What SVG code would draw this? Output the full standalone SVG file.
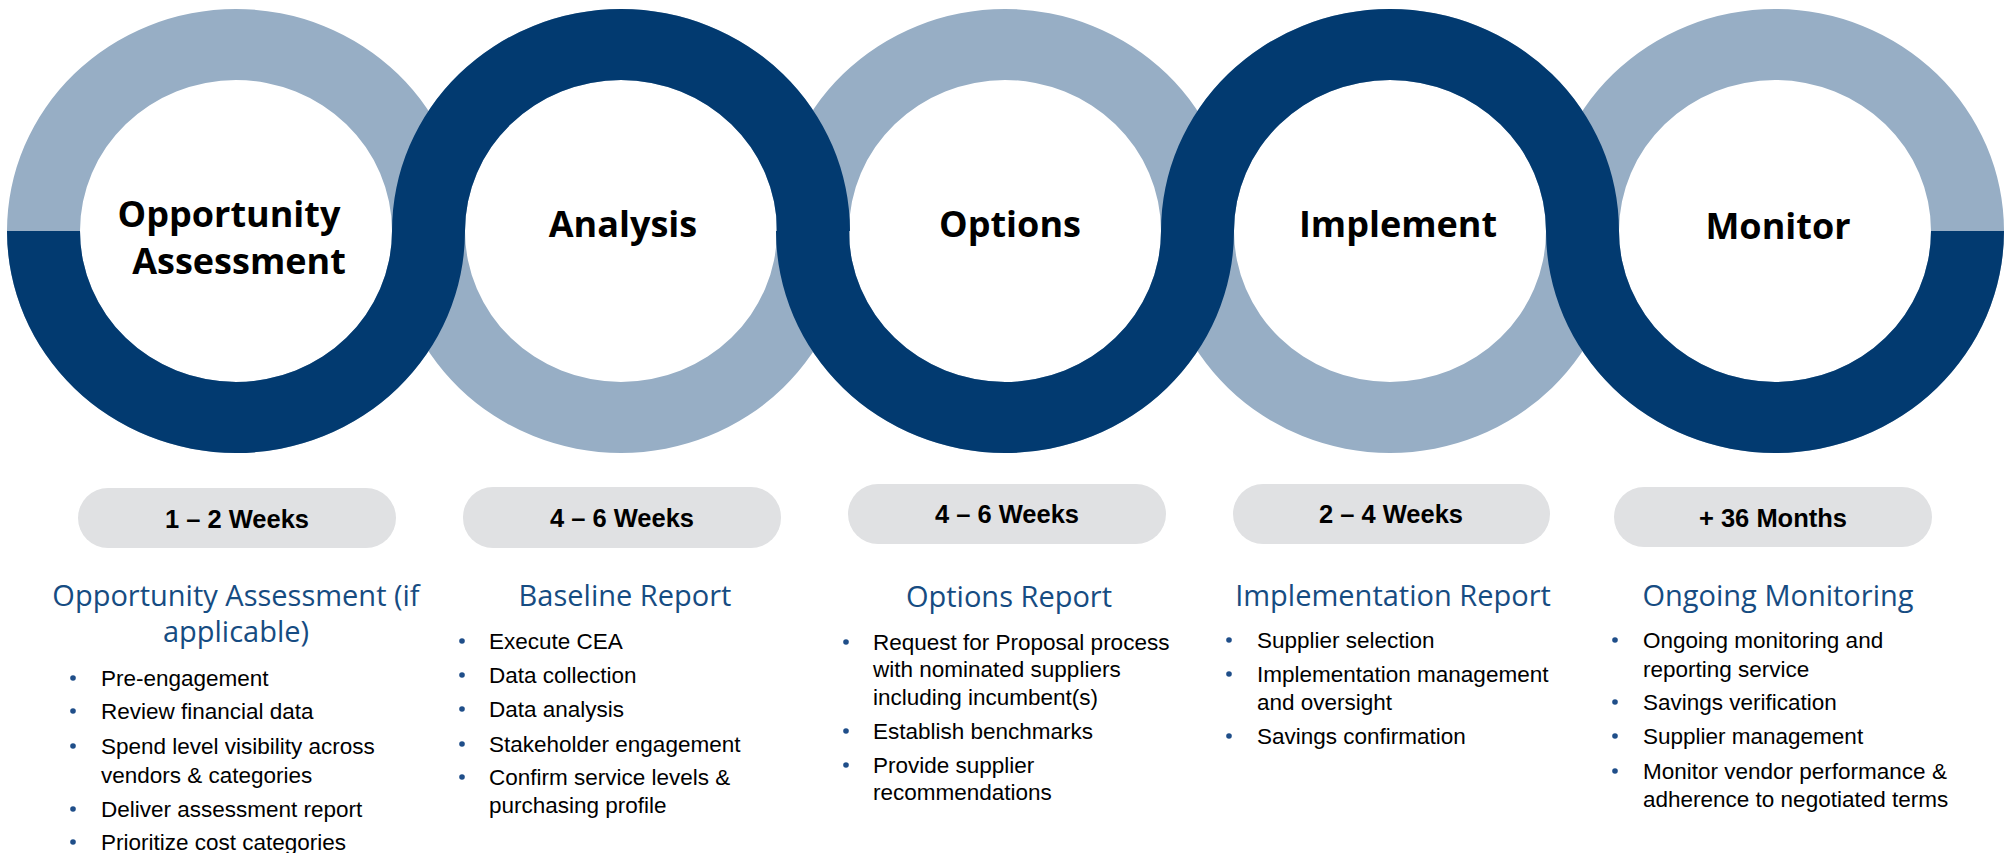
<svg xmlns="http://www.w3.org/2000/svg" width="2011" height="853" viewBox="0 0 2011 853">
<style>
.light{fill:#97aec5}
.dark{fill:#023a70}
.title{font-family:"Open Sans","DejaVu Sans",sans-serif;font-weight:bold;font-size:36px;fill:#000;text-anchor:middle}
.pill{fill:#e0e1e3}
.dur{font-family:"Liberation Sans",Arial,sans-serif;font-weight:bold;font-size:25.5px;fill:#000;text-anchor:middle}
.head{font-family:"Open Sans","DejaVu Sans",sans-serif;font-size:29px;fill:#164c82;text-anchor:middle}
.item{font-family:"Liberation Sans",Arial,sans-serif;font-size:22.5px;fill:#000}
.dot{fill:#1f4e89}
</style>
<rect width="2011" height="853" fill="#fff"/>
<g id="rings">
  <g id="rings-light">
    <path class="light" fill-rule="evenodd" d="M7 231a229 222 0 1 0 458 0a229 222 0 1 0 -458 0ZM80 231a156 151 0 1 0 312 0a156 151 0 1 0 -312 0Z"/>
    <path class="light" fill-rule="evenodd" d="M392 231a229 222 0 1 0 458 0a229 222 0 1 0 -458 0ZM465 231a156 151 0 1 0 312 0a156 151 0 1 0 -312 0Z"/>
    <path class="light" fill-rule="evenodd" d="M776 231a229 222 0 1 0 458 0a229 222 0 1 0 -458 0ZM849 231a156 151 0 1 0 312 0a156 151 0 1 0 -312 0Z"/>
    <path class="light" fill-rule="evenodd" d="M1161 231a229 222 0 1 0 458 0a229 222 0 1 0 -458 0ZM1234 231a156 151 0 1 0 312 0a156 151 0 1 0 -312 0Z"/>
    <path class="light" fill-rule="evenodd" d="M1546 231a229 222 0 1 0 458 0a229 222 0 1 0 -458 0ZM1619 231a156 151 0 1 0 312 0a156 151 0 1 0 -312 0Z"/>
  </g>
  <g id="rings-dark">
    <path class="dark" d="M7 231A229 222 0 0 0 465 231L392 231A156 151 0 0 1 80 231Z"/>
    <path class="dark" d="M392 231A229 222 0 0 1 850 231L777 231A156 151 0 0 0 465 231Z"/>
    <path class="dark" d="M776 231A229 222 0 0 0 1234 231L1161 231A156 151 0 0 1 849 231Z"/>
    <path class="dark" d="M1161 231A229 222 0 0 1 1619 231L1546 231A156 151 0 0 0 1234 231Z"/>
    <path class="dark" d="M1546 231A229 222 0 0 0 2004 231L1931 231A156 151 0 0 1 1619 231Z"/>
  </g>
</g>

<g id="node-opportunity">
  <text class="title" x="229" y="227">Opportunity</text>
  <text class="title" x="239" y="274">Assessment</text>
  <rect class="pill" x="78" y="488" width="318" height="60" rx="30"/>
  <text class="dur" x="237" y="528">1 – 2 Weeks</text>
  <text class="head" x="236" y="606">Opportunity Assessment (if</text>
  <text class="head" x="236" y="642">applicable)</text>
  <circle class="dot" cx="73" cy="678" r="2.8"/>
  <text class="item" x="101" y="686">Pre-engagement</text>
  <circle class="dot" cx="73" cy="711" r="2.8"/>
  <text class="item" x="101" y="719">Review financial data</text>
  <circle class="dot" cx="73" cy="746" r="2.8"/>
  <text class="item" x="101" y="754">Spend level visibility across</text>
  <text class="item" x="101" y="783">vendors &amp; categories</text>
  <circle class="dot" cx="73" cy="809" r="2.8"/>
  <text class="item" x="101" y="817">Deliver assessment report</text>
  <circle class="dot" cx="73" cy="842" r="2.8"/>
  <text class="item" x="101" y="850">Prioritize cost categories</text>
</g>

<g id="node-analysis">
  <text class="title" x="623" y="237">Analysis</text>
  <rect class="pill" x="463" y="487" width="318" height="61" rx="30"/>
  <text class="dur" x="622" y="527">4 – 6 Weeks</text>
  <text class="head" x="625" y="606">Baseline Report</text>
  <circle class="dot" cx="462" cy="641" r="2.8"/>
  <text class="item" x="489" y="649">Execute CEA</text>
  <circle class="dot" cx="462" cy="675" r="2.8"/>
  <text class="item" x="489" y="683">Data collection</text>
  <circle class="dot" cx="462" cy="709" r="2.8"/>
  <text class="item" x="489" y="717">Data analysis</text>
  <circle class="dot" cx="462" cy="744" r="2.8"/>
  <text class="item" x="489" y="752">Stakeholder engagement</text>
  <circle class="dot" cx="462" cy="777" r="2.8"/>
  <text class="item" x="489" y="785">Confirm service levels &amp;</text>
  <text class="item" x="489" y="813">purchasing profile</text>
</g>

<g id="node-options">
  <text class="title" x="1010" y="237">Options</text>
  <rect class="pill" x="848" y="484" width="318" height="60" rx="30"/>
  <text class="dur" x="1007" y="523">4 – 6 Weeks</text>
  <text class="head" x="1009" y="607">Options Report</text>
  <circle class="dot" cx="846" cy="642" r="2.8"/>
  <text class="item" x="873" y="650">Request for Proposal process</text>
  <text class="item" x="873" y="677">with nominated suppliers</text>
  <text class="item" x="873" y="705">including incumbent(s)</text>
  <circle class="dot" cx="846" cy="731" r="2.8"/>
  <text class="item" x="873" y="739">Establish benchmarks</text>
  <circle class="dot" cx="846" cy="765" r="2.8"/>
  <text class="item" x="873" y="773">Provide supplier</text>
  <text class="item" x="873" y="800">recommendations</text>
</g>

<g id="node-implement">
  <text class="title" x="1398" y="237">Implement</text>
  <rect class="pill" x="1233" y="484" width="317" height="60" rx="30"/>
  <text class="dur" x="1391" y="523">2 – 4 Weeks</text>
  <text class="head" x="1393" y="606">Implementation Report</text>
  <circle class="dot" cx="1229" cy="640" r="2.8"/>
  <text class="item" x="1257" y="648">Supplier selection</text>
  <circle class="dot" cx="1229" cy="674" r="2.8"/>
  <text class="item" x="1257" y="682">Implementation management</text>
  <text class="item" x="1257" y="710">and oversight</text>
  <circle class="dot" cx="1229" cy="736" r="2.8"/>
  <text class="item" x="1257" y="744">Savings confirmation</text>
</g>

<g id="node-monitor">
  <text class="title" x="1778" y="239">Monitor</text>
  <rect class="pill" x="1614" y="487" width="318" height="60" rx="30"/>
  <text class="dur" x="1773" y="527">+ 36 Months</text>
  <text class="head" x="1778" y="606">Ongoing Monitoring</text>
  <circle class="dot" cx="1615" cy="640" r="2.8"/>
  <text class="item" x="1643" y="648">Ongoing monitoring and</text>
  <text class="item" x="1643" y="677">reporting service</text>
  <circle class="dot" cx="1615" cy="702" r="2.8"/>
  <text class="item" x="1643" y="710">Savings verification</text>
  <circle class="dot" cx="1615" cy="736" r="2.8"/>
  <text class="item" x="1643" y="744">Supplier management</text>
  <circle class="dot" cx="1615" cy="771" r="2.8"/>
  <text class="item" x="1643" y="779">Monitor vendor performance &amp;</text>
  <text class="item" x="1643" y="807">adherence to negotiated terms</text>
</g>
</svg>
